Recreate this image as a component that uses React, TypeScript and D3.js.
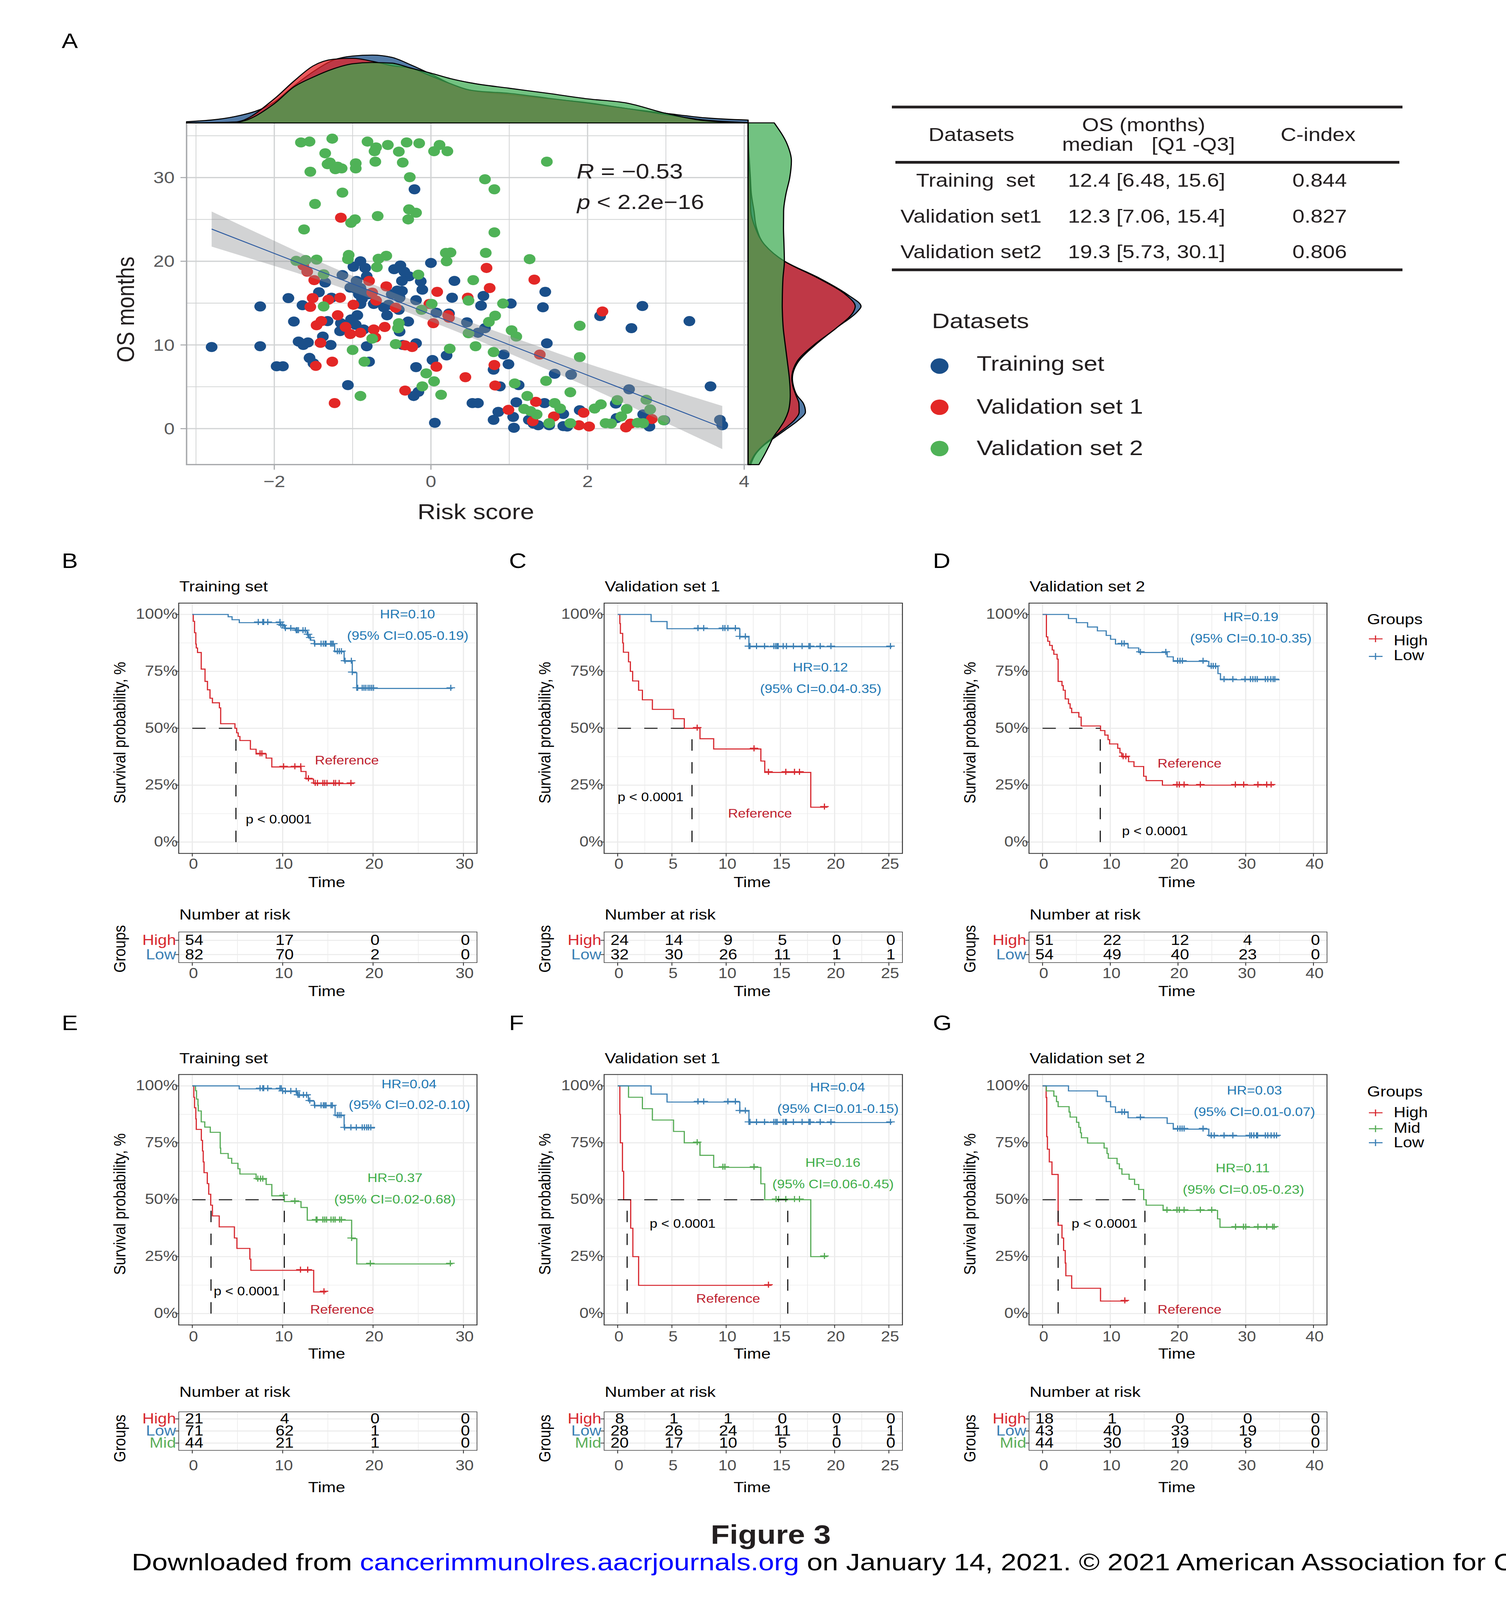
import React from 'react';
import * as d3 from 'd3';

type Pt = [number, number];

// the page has an 8px body margin by default
document.body.style.margin = '0';

// Panel A: scatter points, [risk score, OS months]
const trainingPts: Pt[] = [
  [-2.8,9.75],[-2.18,9.85],[-2.18,14.6],[-1.82,15.6],[-1.97,7.45],[-1.89,7.45],[-1.75,12.8],[-1.69,10.4],[-1.63,10],[-1.57,10.3],
  [-1.64,14.75],[-1.55,8.45],[-1.5,7.8],[-1.43,16.3],[-1.35,17.45],[-1.38,11],[-1.28,10],[-1.32,12.85],[-1.27,15.65],[-1.13,18.35],
  [-0.99,19.35],[-0.9,20],[-0.84,19.2],[-0.82,18.2],[-0.95,17.65],[-1.03,16.85],[-0.97,16.75],[-0.9,16.8],[-0.92,16.05],[-0.88,15.5],
  [-0.8,16.05],[-0.73,14.9],[-0.9,14.9],[-0.94,13.55],[-1.02,13.05],[-0.96,12.4],[-1.16,11.65],[-1.15,12.6],[-0.86,11.85],[-0.82,9.85],
  [-0.79,8],[-1.06,5.2],[-0.39,19.5],[-0.47,19.05],[-0.34,18.75],[-0.28,18.2],[-0.37,17.65],[-0.13,17.6],[-0.11,16.6],[-0.37,16.45],
  [-0.43,16.5],[-0.5,16.05],[-0.4,15.65],[-0.19,15.35],[-0.6,14.5],[-0.54,14.8],[-0.41,14.2],[-0.56,13.55],[-0.29,12.8],[-0.4,11.6],
  [-0.19,10.2],[-0.36,10],[0,19.8],[0.3,17.65],[0.27,15.65],[0.07,13.85],[0.23,13.75],[0.67,15.85],[0.64,14.7],[1.02,14.95],
  [1.46,16.35],[1.43,14.5],[0.46,12.7],[0.69,12],[0.6,11.45],[1.48,10.2],[0.93,8.85],[0.2,8.75],[0.02,8.2],[0.99,7.7],
  [0.8,7.05],[-0.19,7.35],[1.58,6.55],[1.79,6.45],[0.88,5.05],[1.12,5.2],[-0.16,4.4],[-0.22,3.9],[0.53,3.05],[0.6,3.05],
  [1.09,3.15],[1.45,3.05],[2.53,4.7],[2.16,13.45],[2.56,12],[2.7,14.65],[3.3,12.85],[3.57,5.05],[-0.21,28.6],[0.05,0.7],
  [0.86,2],[0.8,1.05],[1.05,1.4],[1.06,0.1],[1.25,1.05],[1.31,0.6],[1.37,0.4],[1.51,0.4],[1.69,1.75],[1.69,0.3],
  [1.74,0.25],[1.9,2.2],[2.36,3],[2.37,1.25],[2.71,1.7],[2.79,0.25],[2.98,1],[3.69,1.05],[3.72,0.4],
];
const validation1Pts: Pt[] = [
  [-1.15,25.2],[0.71,19.2],[1.32,17.8],[-1.58,18.75],[-1.63,19.5],[-1.49,17.75],[-0.79,17.65],[-0.57,17],[0.08,16.35],[0.75,16.8],
  [-0.75,16.25],[0.47,15.65],[-1.51,15.6],[-1.16,15.65],[-1.31,15.4],[-1.54,14.55],[-0.99,14.8],[-0.7,15.3],[-0.45,14.45],[-0.02,14.9],
  [2.19,14],[0.22,13.55],[0.23,13.25],[-1.19,13.55],[-1.4,12.85],[-1.46,12.35],[0.03,12.6],[-1.09,12.15],[-0.59,12.15],[-0.73,11.85],
  [-1.03,11.3],[-0.9,11.45],[-0.71,10.9],[-1.41,10.25],[-0.33,9.95],[-0.24,9.75],[1.39,8.85],[-1.26,8],[-1.47,7.5],[0.81,7.6],
  [0.07,7.4],[0.44,6.15],[0.82,5.15],[-0.33,4.55],[-1.23,3.05],[1.34,3.2],[0.99,2.25],[1.95,1.9],[1.57,1.45],[1.3,0.9],
  [2.82,1.15],[2.55,0.6],[2.49,0.15],[1.89,0.4],[2.02,0.25],
];
const validation2Pts: Pt[] = [
  [-1.66,34.2],[-1.55,34.3],[-1.26,34.65],[-0.81,34.3],[-0.7,33.6],[-0.55,33.9],[-0.72,33.15],[-0.41,33.1],[-0.31,34.2],[-0.15,34.1],
  [0.11,33.9],[0.04,33.15],[0.21,33.15],[-1.35,32.9],[-0.71,31.9],[-0.36,31.8],[-0.96,31.7],[-0.96,31.1],[-1.32,31.6],[-1.29,31.8],
  [-1.22,31],[-1.19,31.3],[-1.14,31.1],[-1.54,30.7],[1.48,31.9],[-0.27,30.05],[0.69,29.8],[0.81,28.6],[-1.13,28.2],[-1.48,26.85],
  [-0.28,26.2],[-0.19,25.8],[-0.68,25.4],[-0.29,25],[-0.97,25],[-1.02,24.6],[-1.62,23.8],[0.81,23.45],[0.7,21],[0.19,21],
  [0.25,21.05],[0.2,20],[1.26,20.25],[-1.05,20.75],[-1.06,20.25],[-0.57,20.65],[-0.67,20.3],[-0.69,19.3],[-1.72,20.05],[-1.6,20.15],
  [-1.46,20.2],[-1.37,18.45],[-0.16,18.4],[0.54,17.75],[0.48,15.3],[0.92,14.95],[-1.37,14.6],[0.01,14.9],[-0.12,14.2],[0.82,13.5],
  [0.74,12.75],[1.9,12.3],[-0.41,12.6],[-0.42,12],[1.03,11.75],[1.09,11],[0.48,11.4],[-0.75,10.75],[-0.45,10.1],[0.57,9.85],
  [0.24,9.55],[-1,9.4],[0.8,9.15],[1.9,8.55],[-0.85,8],[-0.06,6.6],[0.04,5.65],[1.47,5.7],[1.07,5.4],[-0.11,5.05],
  [1.78,4.35],[0.13,4.05],[-0.9,3.9],[1.23,3.9],[2.38,3.4],[2.75,3.45],[1.58,3.05],[2.17,2.9],[2.09,2.4],[1.65,2.4],
  [2.5,2.35],[2.8,2.3],[1.19,2.35],[1.27,2.1],[1.35,1.7],[2.43,1.45],[2.97,1],[1.51,0.65],[1.78,0.65],[2.23,0.65],
  [2.3,0.6],[2.64,0.7],[2.71,0.65],
];

// Regression line and its confidence band
const fitX = [-2.8,-2,-1.5,-1,-0.5,0,0.5,1,1.5,2,2.5,3,3.72];
const fitY = [23.85,20.94,19.12,17.3,15.48,13.66,11.85,10.03,8.21,6.39,4.57,2.75,0.13];
const fitUpper = [25.95,22.44,20.27,18.25,16.33,14.51,12.75,11.07,9.41,7.77,6.27,4.8,2.71];
const fitLower = [21.75,19.44,17.97,16.35,14.63,12.81,10.95,8.99,7.01,5.01,2.87,0.7,-2.45];

// Marginal densities over risk score
const topGrid = [-3.12,-2.5,-2,-1.75,-1.5,-1.25,-1,-0.75,-0.5,-0.25,0,0.25,0.5,1,1.5,2,2.5,3,3.5,4.05];
const topTraining = [.006,.03,.0975,.1725,.24,.2925,.312,.3165,.306,.27,.228,.183,.153,.132,.1125,.0945,.0675,.045,.024,.0135];
const topValidation1 = [0,.0045,.1125,.195,.267,.297,.3015,.288,.267,.255,.219,.183,.153,.138,.1155,.093,.0675,.039,.0135,.0015];
const topValidation2 = [0,.003,.09,.168,.2145,.252,.276,.282,.279,.255,.2325,.207,.1875,.162,.138,.1125,.093,.045,.0105,0];

// Marginal densities over OS months
const rightGrid = [36.54,34,32,30,28,26,24,22,20,18,16,14.6,14,12,10,8,6,5,4,3,2,1,0,-1,-2,-3,-4.3];
const rightTraining = [0,.0003,.001,.0018,.0026,.0047,.0067,.013,.0291,.0566,.0794,.09,.0872,.0701,.0535,.04,.0353,.0363,.0389,.0441,.0457,.04,.0311,.0218,.0125,.0062,.0021];
const rightValidation1 = [0,.0001,.0006,.0014,.0018,.0021,.0057,.013,.0289,.0555,.0779,.0854,.0841,.0701,.0524,.0389,.0348,.0358,.0381,.0405,.0407,.0368,.0291,.0202,.0119,.0057,.001];
const rightValidation2 = [.0208,.0311,.0345,.0332,.0301,.0283,.0282,.0286,.0289,.0278,.0273,.0272,.0273,.028,.0296,.0313,.0329,.0334,.0336,.0332,.0319,.0291,.0249,.0202,.0169,.0135,.0086];

// Summary table
const tableHeaders = ['Datasets', 'C-index'];
const tableDatasets = ['Training  set', 'Validation set1', 'Validation set2'];
const tableOs = ['12.4 [6.48, 15.6]', '12.3 [7.06, 15.4]', '19.3 [5.73, 30.1]'];
const tableCIndex = ['0.844', '0.827', '0.806'];
const legendNames = ['Training set', 'Validation set 1', 'Validation set 2'];

// Kaplan-Meier steps, [time, survival %], and censoring times
const bHigh: Pt[] = [[0,100],[.11,97],[.25,92],[.39,87],[.44,85.3],[.58,83.3],[.99,76],[1.41,70.6],[1.68,66.9],[1.96,63.2],[2.23,61.2],[3,59],[3.14,52],[4.72,50],[4.91,48],[5.08,46.4],[5.27,44.6],[6.43,40.8],[7.06,38.7],[8.17,36.9],[8.8,33],[12.03,31],[12.58,27.7],[13.41,25.7],[17.9,25.7]];
const bHighCens = [7.5,7.7,10.1,11.35,12,12.85,13.6,13.85,14.45,14.65,14.9,15.65,15.85,16.25,17.55];
const bLow: Pt[] = [[0,100],[3.97,99],[4.4,97.7],[5.2,96.4],[9.8,95.3],[10,94.9],[10.2,93.75],[11.4,92.8],[12.7,91],[12.9,89.6],[13.1,88.7],[13.5,86.9],[15.75,83.6],[16.8,79.4],[17.7,74.4],[18.2,67.5],[28.8,67.5]];
const bLowCens = [7.3,7.8,7.9,8.35,9.7,9.8,10,10.3,10.9,11.5,11.6,11.75,12.25,12.5,12.8,13.05,13.55,14.25,14.5,14.7,14.8,15.3,15.45,15.6,16.05,16.27,16.5,16.9,17.6,17.7,18.2,18.3,18.8,19,19.2,19.45,19.65,19.85,20.05,28.6];

const cHigh: Pt[] = [[0,100],[.2,96],[.25,91.7],[.46,87.5],[.53,83.4],[1,79.2],[1.17,75],[1.38,70.8],[1.93,66.7],[2.28,62.5],[3.2,58.3],[5.15,54.2],[6.14,50],[7.59,45.4],[8.85,40.9],[13.2,35.6],[13.56,30.6],[17.8,15.3],[19.35,15.3]];
const cHighCens = [7.33,12.57,13.9,15.5,16.3,16.76,19.06];
const cLow: Pt[] = [[0,100],[3.08,96.9],[4.55,93.75],[11.26,90.1],[12.1,85.8],[25.3,85.8]];
const cLowCens = [7.4,7.93,9.7,9.88,10.16,10.85,11.26,11.77,12.1,12.2,12.8,13.54,14.4,14.57,14.7,14.8,15.26,15.56,16.2,17,17.63,17.75,18.67,19.66,25.15];

const dHigh: Pt[] = [[0,100],[.57,90.2],[.77,88.2],[1.05,86.4],[1.43,84.4],[1.67,82.5],[2.15,80.4],[2.3,70.6],[2.87,68.75],[3.06,66.7],[3.35,62.9],[3.83,60.8],[4.07,58.8],[4.3,56.9],[5.36,54.9],[5.7,51],[8.56,49],[9.2,47],[9.67,45],[9.9,43.1],[11.1,41.2],[11.43,39.2],[11.7,37.4],[12.7,35.3],[13.5,33.2],[14.93,28.9],[15.3,27],[17.7,25],[34.2,25]];
const dHighCens = [11.9,12.3,19.85,20.2,20.9,23.3,28.47,29.7,31.8,33.1,33.75];
const dLow: Pt[] = [[0,100],[3.83,98.2],[5,96.4],[6.65,94.5],[8.1,92.8],[9.4,90.8],[10.05,89.1],[10.77,87],[12.63,85.3],[14.2,83.3],[18.4,81.4],[19.3,79.4],[24.55,77.1],[25.9,74],[26.27,71.3],[35,71.3]];
const dLowCens = [11.7,12.05,14.45,18.2,19.95,20.3,20.65,23.7,24.9,25.2,25.55,26.8,28.1,29.9,30.7,31.05,31.4,31.7,32.9,33.25,33.7,34.05,34.3];

const eHigh: Pt[] = [[0,100],[.17,95],[.25,90.4],[.39,85.5],[.44,80.9],[1,76.1],[1.13,71.4],[1.21,66.6],[1.3,61.9],[1.66,57.1],[1.82,52.4],[2.04,47.6],[2.23,42.9],[2.98,38.1],[4.66,33.2],[4.94,28.6],[6.37,23.9],[6.48,19],[13.43,9.5],[14.84,9.5]];
const eHighCens = [11.97,12.77,14.57];
const eMid: Pt[] = [[0,100],[.36,97.9],[.47,94.2],[.63,91.5],[.66,89],[.99,84.2],[1.38,81.9],[1.99,79.6],[3.09,72.7],[3.14,70.3],[3.97,68.2],[4.36,66],[5.05,63.6],[5.27,61.3],[7.06,59],[8.17,56.7],[8.8,51.7],[10.18,49.2],[12.03,46.6],[12.72,41],[17.63,32.9],[18.2,21.8],[28.8,21.8]];
const eMidCens = [7.25,7.55,7.8,10.1,11.35,13.7,13.8,14.45,14.65,14.85,15.35,15.6,15.8,16.3,16.5,17.63,19.7,28.55];
const eLow: Pt[] = [[0,100],[5.19,98.7],[10,97.5],[11.6,95.8],[12.85,93.3],[13.5,91.2],[15.8,86.9],[16.8,81.5],[20.2,81.5]];
const eLowCens = [7.5,7.8,7.9,8.35,9.7,9.85,10,10.3,10.9,11.5,11.7,11.85,12.3,12.65,13,13.55,14.25,14.5,14.65,14.8,15.35,15.5,16.05,16.25,16.45,16.85,17.55,18.15,18.8,19.05,19.3,19.5,19.75];

const fHigh: Pt[] = [[0,100],[.2,87.5],[.25,75],[.44,62.5],[.55,50],[1.2,37.5],[1.4,25],[1.93,12.4],[14.2,12.4]];
const fHighCens = [13.9];
const fMid: Pt[] = [[0,100],[1,95],[2.28,90],[3.2,85],[5.15,80],[6.14,75],[7.59,69.5],[8.85,64.2],[13.2,57],[13.56,50],[17.8,25],[19.35,25]];
const fMidCens = [7.33,9.7,9.88,12.57,14.6,14.83,15.5,16.3,16.76,19.06];
const fLow: Pt[] = [[0,100],[3.08,96.4],[4.55,92.9],[11.26,88.9],[12.1,83.9],[25.3,83.9]];
const fLowCens = [7.4,7.93,10.16,10.85,11.26,11.77,12.1,12.2,12.8,13.54,14.4,14.57,14.7,15.26,15.45,15.56,16.2,17,17.63,17.75,18.67,19.66,25.15];

const gHigh: Pt[] = [[0,100],[.53,94.9],[.62,77.7],[.72,72.2],[1,66.6],[1.39,61.1],[2.3,38.8],[2.87,33.2],[3.11,27.7],[3.35,22.2],[3.44,16.6],[4.3,11.1],[8.56,5.5],[12.6,5.5]];
const gHighCens = [12.15];
const gMid: Pt[] = [[0,100],[.57,97.8],[1.67,95.5],[2.06,93.1],[2.3,90.9],[3.92,88.5],[4.07,86.3],[5.02,84],[5.36,81.8],[5.6,79.4],[5.74,77.2],[6.65,74.9],[9.09,72.7],[9.52,70.3],[9.71,68.2],[11,65.8],[11.34,63.6],[11.72,61.2],[12.78,59],[13.59,56.7],[14.2,54.5],[14.93,50],[15.3,47.6],[17.8,45.3],[25.84,41.6],[26.2,37.9],[34.6,37.9]];
const gMidCens = [18.37,19.85,20.2,20.9,23.3,24.98,28.5,29.67,30,31.8,33.1,33.97,34.2];
const gLow: Pt[] = [[0,100],[3.83,97.8],[8.1,95.5],[9.4,93.1],[10.05,90.8],[10.77,88.3],[12.63,86],[18.4,83.5],[19.3,81],[24.55,78],[35,78]];
const gLowCens = [11.72,12.1,14.45,19.95,20.3,20.6,20.9,23.7,24.9,25.35,26.8,28.1,30.6,30.85,31.2,31.6,31.75,32.9,33.25,33.75,34.2,34.55];

// Numbers at risk
const riskB = { High: [54,17,0,0], Low: [82,70,2,0] };
const riskC = { High: [24,14,9,5,0,0], Low: [32,30,26,11,1,1] };
const riskD = { High: [51,22,12,4,0], Low: [54,49,40,23,0] };
const riskE = { High: [21,4,0,0], Low: [71,62,1,0], Mid: [44,21,1,0] };
const riskF = { High: [8,1,1,0,0,0], Low: [28,26,24,11,1,1], Mid: [20,17,10,5,0,0] };
const riskG = { High: [18,1,0,0,0], Low: [43,40,33,19,0], Mid: [44,30,19,8,0] };

const FONT = '"Liberation Sans", Arial, sans-serif';
const INK = '#231f20';
const DOT = { training: '#1a4f8a', v1: '#e32726', v2: '#4fb257' };
const GROUP_COLOR: Record<string, string> = { High: '#d7282f', Mid: '#55ab55', Low: '#3b7fb4' };
const ROW_LABEL: Record<string, string> = { High: '#d7282f', Mid: '#5daf5b', Low: '#3b7fb4' };
const ANN_BLUE = '#1f78b4';
const ANN_GREEN = '#3fae49';
const ANN_RED = '#be1e2d';

// Panel A
const ax = d3.scaleLinear().domain([-3.12, 4.05]).range([477.6, 1915]);
const ay = d3.scaleLinear().domain([-4.3, 36.53]).range([1382.8, 365.9]);
const topY = d3.scaleLinear().domain([0, 0.3165]).range([366, 164]);
const rightX = d3.scaleLinear().domain([0, 0.09]).range([1915, 2204]);

const densityTop = (vals: number[]) =>
  d3.area<number>().x((_, i) => ax(topGrid[i])).y0(topY(0)).y1((d) => topY(d)).curve(d3.curveMonotoneX)(vals) as string;
const densityRight = (vals: number[]) =>
  d3.area<number>().y((_, i) => ay(rightGrid[i])).x0(rightX(0)).x1((d) => rightX(d)).curve(d3.curveMonotoneY)(vals) as string;

const PanelA = () => {
  const band = d3.area<number>().x((d) => ax(d)).y0((_, i) => ay(fitLower[i])).y1((_, i) => ay(fitUpper[i])).curve(d3.curveMonotoneX)(fitX) as string;
  const line = d3.line<number>().x((d) => ax(d)).y((_, i) => ay(fitY[i]))(fitX) as string;
  const densities = [
    { top: topTraining, right: rightTraining, fill: 'rgb(26,79,138)', op: 0.75 },
    { top: topValidation1, right: rightValidation1, fill: 'rgb(227,33,38)', op: 0.75 },
    { top: topValidation2, right: rightValidation2, fill: 'rgb(60,170,80)', op: 0.72 },
  ];
  return (
    <g>
      {[-3, -1, 1, 3].map((v) => <line key={v} x1={ax(v)} x2={ax(v)} y1={366} y2={1383} stroke="#d1d3d4" strokeWidth={2} />)}
      {[5, 15, 25, 35].map((v) => <line key={v} x1={477} x2={1915} y1={ay(v)} y2={ay(v)} stroke="#d1d3d4" strokeWidth={2.2} />)}
      {[-2, 0, 2, 4].map((v) => <line key={v} x1={ax(v)} x2={ax(v)} y1={366} y2={1383} stroke="#d1d3d4" strokeWidth={3.2} />)}
      {[0, 10, 20, 30].map((v) => <line key={v} x1={477} x2={1915} y1={ay(v)} y2={ay(v)} stroke="#d1d3d4" strokeWidth={3.6} />)}
      <path d="M477.6 366V1382.8H1915" fill="none" stroke="#a7a9ac" strokeWidth={3.6} />

      {trainingPts.map((d, i) => <circle key={i} cx={ax(d[0])} cy={ay(d[1])} r={15} fill={DOT.training} />)}
      {validation1Pts.map((d, i) => <circle key={i} cx={ax(d[0])} cy={ay(d[1])} r={15} fill={DOT.v1} />)}
      {validation2Pts.map((d, i) => <circle key={i} cx={ax(d[0])} cy={ay(d[1])} r={15} fill={DOT.v2} />)}
      <path d={band} fill="#8e9094" fillOpacity={0.4} />
      <path d={line} fill="none" stroke="#2c5aa0" strokeWidth={2.6} />

      {[-2, 0, 2, 4].map((v) => (
        <g key={v}>
          <line x1={ax(v)} x2={ax(v)} y1={1383} y2={1398} stroke="#a7a9ac" strokeWidth={3} />
          <text x={ax(v)} y={1450} textAnchor="middle" fontSize={49} fill="#58595b">{v < 0 ? `\u2212${-v}` : v}</text>
        </g>
      ))}
      {[0, 10, 20, 30].map((v) => (
        <g key={v}>
          <line x1={462} x2={477} y1={ay(v)} y2={ay(v)} stroke="#a7a9ac" strokeWidth={3} />
          <text x={447} y={ay(v) + 17} textAnchor="end" fontSize={49} fill="#58595b">{v}</text>
        </g>
      ))}
      <text x={1218} y={1545} textAnchor="middle" fontSize={64} fill={INK}>Risk score</text>
      <text transform="translate(343,921) rotate(-90)" textAnchor="middle" fontSize={63} fill={INK}>OS months</text>
      <text x={1476} y={531} fontSize={62} fill={INK}><tspan fontStyle="italic">R</tspan> = {'\u2212'}0.53</text>
      <text x={1477} y={622} fontSize={61} fill={INK}><tspan fontStyle="italic">p</tspan> &lt; 2.2e{'\u2212'}16</text>

      {densities.map((d, i) => <path key={i} d={densityTop(d.top)} fill={d.fill} fillOpacity={d.op} stroke="#000" strokeWidth={3} strokeLinejoin="round" />)}
      {densities.map((d, i) => <path key={i} d={densityRight(d.right)} fill={d.fill} fillOpacity={d.op} stroke="#000" strokeWidth={3} strokeLinejoin="round" />)}
    </g>
  );
};

const SummaryTable = () => {
  const rowY = [556, 662.5, 768.7];
  return (
    <g fontSize={55.7} fill={INK}>
      <line x1={2283} x2={3590} y1={318.5} y2={318.5} stroke={INK} strokeWidth={8} />
      <line x1={2292} x2={3582} y1={483} y2={483} stroke={INK} strokeWidth={8} />
      <line x1={2283} x2={3590} y1={803} y2={803} stroke={INK} strokeWidth={8} />
      <text x={2486.6} y={419.6} textAnchor="middle">{tableHeaders[0]}</text>
      <text x={2927.5} y={390.5} textAnchor="middle">OS (months)</text>
      <text x={2940} y={448.7} textAnchor="middle" xmlSpace="preserve">{'median   [Q1 -Q3]'}</text>
      <text x={3374} y={419.6} textAnchor="middle">{tableHeaders[1]}</text>
      {tableDatasets.map((d, i) => (
        <g key={d}>
          <text x={i === 0 ? 2345 : 2305} y={rowY[i]} xmlSpace="preserve">{d}</text>
          <text x={2733.8} y={rowY[i]}>{tableOs[i]}</text>
          <text x={3378} y={rowY[i]} textAnchor="middle">{tableCIndex[i]}</text>
        </g>
      ))}
      <text x={2385.5} y={976.7} fontSize={63}>Datasets</text>
      {legendNames.map((d, i) => (
        <g key={d}>
          <circle cx={2405} cy={[1089.5, 1212, 1335][i]} r={23} fill={[DOT.training, DOT.v1, DOT.v2][i]} />
          <text x={2500} y={[1103, 1231, 1355][i]} fontSize={63}>{d}</text>
        </g>
      ))}
    </g>
  );
};

interface Curve { group: string; steps: Pt[]; censor: number[] }
interface Note { text: string; x: number; y: number; color: string; anchor?: string }
interface KmProps {
  title: string;
  col: number;
  row: number;
  tMax: number;
  tStep: number;
  curves: Curve[];
  medians: number[];
  risk: Record<string, number[]>;
  notes: Note[];
}

const COLS = [[457.5, 1221], [1546.4, 2310], [2634, 3396.8]];
const ROWS = [
  { top: 1795, bottom: 2540, title: 1760, tick: 2586, time: 2640, riskTitle: 2737, tTop: 2773.7, tBottom: 2865, rows: [2798.6, 2841], tTick: 2911, tTime: 2965, groupsY: 2824 },
  { top: 3198, bottom: 3943.4, title: 3165, tick: 3992.5, time: 4044, riskTitle: 4158, tTop: 4202, tBottom: 4316.6, rows: [4223, 4295], tTick: 4376.4, tTime: 4441.6, groupsY: 4281 },
];

const KmPanel = ({ title, col, row, tMax, tStep, curves, medians, risk, notes }: KmProps) => {
  const [left, right] = COLS[col];
  const L = ROWS[row];
  const x = d3.scaleLinear().domain([-tMax * 0.05, tMax * 1.05]).range([left, right]);
  const y = d3.scaleLinear().domain([-5, 105]).range([L.bottom, L.top]);
  const ticks = d3.range(0, tMax + 0.001, tStep);
  const minors = d3.range(tStep / 2, tMax * 1.05, tStep);
  const line = d3.line<Pt>().x((d) => x(d[0])).y((d) => y(d[1])).curve(d3.curveStepAfter);
  const bis = d3.bisector((d: Pt) => d[0]).right;
  const survAt = (steps: Pt[], t: number) => steps[Math.max(0, bis(steps, t) - 1)][1];
  const groups = Object.keys(risk);
  const rowY = d3.scalePoint<string>().domain(groups).range(L.rows);
  const cx = (left + right) / 2 - 3;
  const yBase = left - 137;
  return (
    <g>
      <text x={left + 1.5} y={L.title} fontSize={43.7} fill="#000">{title}</text>
      {minors.map((t) => <line key={t} x1={x(t)} x2={x(t)} y1={L.top} y2={L.bottom} stroke="#ebebeb" strokeWidth={1.6} />)}
      {[12.5, 37.5, 62.5, 87.5].map((v) => <line key={v} x1={left} x2={right} y1={y(v)} y2={y(v)} stroke="#ebebeb" strokeWidth={1.6} />)}
      {ticks.map((t) => <line key={t} x1={x(t)} x2={x(t)} y1={L.top} y2={L.bottom} stroke="#ebebeb" strokeWidth={3} />)}
      {[0, 25, 50, 75, 100].map((v) => <line key={v} x1={left} x2={right} y1={y(v)} y2={y(v)} stroke="#ebebeb" strokeWidth={3} />)}

      {curves.map((c) => (
        <g key={c.group} stroke={GROUP_COLOR[c.group]} fill="none">
          <path d={line(c.steps) as string} strokeWidth={3} />
          <path
            strokeWidth={3}
            d={c.censor.map((t) => {
              const px = x(t);
              const py = y(survAt(c.steps, t)) - 2;
              return `M${px - 11} ${py}H${px + 11}M${px} ${py - 9}V${py + 9}`;
            }).join('')}
          />
        </g>
      ))}

      <line x1={x(0)} x2={x(d3.max(medians) as number)} y1={y(50)} y2={y(50)} stroke="#000" strokeWidth={2.6} strokeDasharray="34 34" />
      {medians.map((m) => <line key={m} x1={x(m)} x2={x(m)} y1={y(0)} y2={y(50)} stroke="#000" strokeWidth={2.6} strokeDasharray="34 34" />)}

      <rect x={left} y={L.top} width={right - left} height={L.bottom - L.top} fill="none" stroke="#333" strokeWidth={2.4} />
      {ticks.map((t) => (
        <g key={t}>
          <line x1={x(t)} x2={x(t)} y1={L.bottom} y2={L.bottom + 9} stroke="#333" strokeWidth={2.2} />
          <text x={x(t) + 3} y={L.tick} textAnchor="middle" fontSize={42} fill="#4d4d4d">{t}</text>
        </g>
      ))}
      {[0, 25, 50, 75, 100].map((v) => (
        <g key={v}>
          <line x1={left - 9} x2={left} y1={y(v)} y2={y(v)} stroke="#333" strokeWidth={2.2} />
          <text x={left - 2.5} y={y(v) + 13} textAnchor="end" fontSize={42} fill="#4d4d4d">{`${v}%`}</text>
        </g>
      ))}
      <text x={cx} y={L.time} textAnchor="middle" fontSize={43.5} fill="#000">Time</text>
      <text transform={`translate(${yBase},${(L.top + L.bottom) / 2 + 13}) rotate(-90)`} textAnchor="middle" fontSize={43.2} fill="#000">Survival probability, %</text>
      {notes.map((n) => (
        <text key={n.text} x={n.x} y={n.y} fontSize={35.5} fill={n.color} textAnchor={(n.anchor || 'start') as any}>{n.text}</text>
      ))}

      <text x={left + 1.5} y={L.riskTitle} fontSize={43.7} fill="#000">Number at risk</text>
      {minors.map((t) => <line key={t} x1={x(t)} x2={x(t)} y1={L.tTop} y2={L.tBottom} stroke="#ebebeb" strokeWidth={1.6} />)}
      {ticks.map((t) => <line key={t} x1={x(t)} x2={x(t)} y1={L.tTop} y2={L.tBottom} stroke="#ebebeb" strokeWidth={3} />)}
      {groups.map((g) => <line key={g} x1={left} x2={right} y1={rowY(g)} y2={rowY(g)} stroke="#ebebeb" strokeWidth={3} />)}
      <rect x={left} y={L.tTop} width={right - left} height={L.tBottom - L.tTop} fill="none" stroke="#333" strokeWidth={1.6} />
      {groups.map((g) => (
        <g key={g}>
          <line x1={left - 9} x2={left} y1={rowY(g)} y2={rowY(g)} stroke="#333" strokeWidth={2.2} />
          <text x={left - 7} y={(rowY(g) as number) + 14} textAnchor="end" fontSize={42} fill={ROW_LABEL[g]}>{g}</text>
          {risk[g].map((n, i) => (
            <text key={i} x={x(ticks[i]) + 5} y={(rowY(g) as number) + 14} textAnchor="middle" fontSize={42} fill="#000">{n}</text>
          ))}
        </g>
      ))}
      {ticks.map((t) => (
        <g key={t}>
          <line x1={x(t)} x2={x(t)} y1={L.tBottom} y2={L.tBottom + 9} stroke="#333" strokeWidth={2.2} />
          <text x={x(t) + 3} y={L.tTick} textAnchor="middle" fontSize={42} fill="#4d4d4d">{t}</text>
        </g>
      ))}
      <text x={cx} y={L.tTime} textAnchor="middle" fontSize={43.5} fill="#000">Time</text>
      <text transform={`translate(${yBase},${L.groupsY}) rotate(-90)`} textAnchor="middle" fontSize={43.2} fill="#000">Groups</text>
    </g>
  );
};

const GroupLegend = ({ names, titleY, keyY, textY }: { names: string[]; titleY: number; keyY: number[]; textY: number[] }) => (
  <g>
    <text x={3499.6} y={titleY} fontSize={43.3} fill="#000">Groups</text>
    {names.map((n, i) => (
      <g key={n}>
        <path d={`M3504 ${keyY[i]}H3539M3521 ${keyY[i] - 10}V${keyY[i] + 10}`} stroke={GROUP_COLOR[n]} strokeWidth={3} fill="none" />
        <text x={3567.6} y={textY[i]} fontSize={42.4} fill="#000">{n}</text>
      </g>
    ))}
  </g>
);

const panelLetters: [string, number, number][] = [
  ['A', 158, 143], ['B', 158, 1690], ['C', 1303, 1690], ['D', 2388, 1690], ['E', 158, 3066], ['F', 1303, 3066], ['G', 2388, 3066],
];

export default function App() {
  // The browser window turns out to be capped at 4096px high, so the 4762px
  // layout is fitted to whatever height is really there (squashed vertically
  // when capped) rather than losing the bottom rows and the caption.
  const pageH = Math.min(4762, window.innerHeight || 4762);
  return (
    <svg
      width={3855}
      height={pageH}
      viewBox="0 0 3855 4762"
      preserveAspectRatio="none"
      style={{ display: 'block', background: '#fff' }}
      fontFamily={FONT}
    >
      {panelLetters.map(([l, x, y]) => <text key={l} x={x} y={y} fontSize={62} fill="#000">{l}</text>)}
      <PanelA />
      <SummaryTable />

      <KmPanel
        title="Training set" col={0} row={0} tMax={30} tStep={10} medians={[4.83]} risk={riskB}
        curves={[{ group: 'High', steps: bHigh, censor: bHighCens }, { group: 'Low', steps: bLow, censor: bLowCens }]}
        notes={[
          { text: 'HR=0.10', x: 1043, y: 1840, color: ANN_BLUE, anchor: 'middle' },
          { text: '(95% CI=0.05-0.19)', x: 1043.6, y: 1904, color: ANN_BLUE, anchor: 'middle' },
          { text: 'Reference', x: 806, y: 2275, color: ANN_RED },
          { text: 'p < 0.0001', x: 629, y: 2451, color: '#000' },
        ]}
      />
      <KmPanel
        title="Validation set 1" col={1} row={0} tMax={25} tStep={5} medians={[6.85]} risk={riskC}
        curves={[{ group: 'High', steps: cHigh, censor: cHighCens }, { group: 'Low', steps: cLow, censor: cLowCens }]}
        notes={[
          { text: 'HR=0.12', x: 2100, y: 1998, color: ANN_BLUE, anchor: 'middle' },
          { text: '(95% CI=0.04-0.35)', x: 2100.8, y: 2062, color: ANN_BLUE, anchor: 'middle' },
          { text: 'Reference', x: 1863.4, y: 2433, color: ANN_RED },
          { text: 'p < 0.0001', x: 1581, y: 2385, color: '#000' },
        ]}
      />
      <KmPanel
        title="Validation set 2" col={2} row={0} tMax={40} tStep={10} medians={[8.52]} risk={riskD}
        curves={[{ group: 'High', steps: dHigh, censor: dHighCens }, { group: 'Low', steps: dLow, censor: dLowCens }]}
        notes={[
          { text: 'HR=0.19', x: 3202, y: 1849, color: ANN_BLUE, anchor: 'middle' },
          { text: '(95% CI=0.10-0.35)', x: 3202, y: 1913, color: ANN_BLUE, anchor: 'middle' },
          { text: 'Reference', x: 2963, y: 2285, color: ANN_RED },
          { text: 'p < 0.0001', x: 2872, y: 2486, color: '#000' },
        ]}
      />
      <GroupLegend names={['High', 'Low']} titleY={1857.5} keyY={[1901.4, 1953.6]} textY={[1921, 1965]} />

      <KmPanel
        title="Training set" col={0} row={1} tMax={30} tStep={10} medians={[2.07, 10.18]} risk={riskE}
        curves={[{ group: 'High', steps: eHigh, censor: eHighCens }, { group: 'Mid', steps: eMid, censor: eMidCens }, { group: 'Low', steps: eLow, censor: eLowCens }]}
        notes={[
          { text: 'HR=0.04', x: 1047, y: 3239, color: ANN_BLUE, anchor: 'middle' },
          { text: '(95% CI=0.02-0.10)', x: 1048, y: 3301, color: ANN_BLUE, anchor: 'middle' },
          { text: 'HR=0.37', x: 1011, y: 3518, color: ANN_GREEN, anchor: 'middle' },
          { text: '(95% CI=0.02-0.68)', x: 1011, y: 3582, color: ANN_GREEN, anchor: 'middle' },
          { text: 'Reference', x: 794, y: 3910, color: ANN_RED },
          { text: 'p < 0.0001', x: 547, y: 3855, color: '#000' },
        ]}
      />
      <KmPanel
        title="Validation set 1" col={1} row={1} tMax={25} tStep={5} medians={[0.87, 15.68]} risk={riskF}
        curves={[{ group: 'High', steps: fHigh, censor: fHighCens }, { group: 'Mid', steps: fMid, censor: fMidCens }, { group: 'Low', steps: fLow, censor: fLowCens }]}
        notes={[
          { text: 'HR=0.04', x: 2144, y: 3248, color: ANN_BLUE, anchor: 'middle' },
          { text: '(95% CI=0.01-0.15)', x: 2145, y: 3312, color: ANN_BLUE, anchor: 'middle' },
          { text: 'HR=0.16', x: 2132, y: 3473, color: ANN_GREEN, anchor: 'middle' },
          { text: '(95% CI=0.06-0.45)', x: 2132.5, y: 3537, color: ANN_GREEN, anchor: 'middle' },
          { text: 'Reference', x: 1782, y: 3877, color: ANN_RED },
          { text: 'p < 0.0001', x: 1663, y: 3654, color: '#000' },
        ]}
      />
      <KmPanel
        title="Validation set 2" col={2} row={1} tMax={40} tStep={10} medians={[2.3, 15.12]} risk={riskG}
        curves={[{ group: 'High', steps: gHigh, censor: gHighCens }, { group: 'Mid', steps: gMid, censor: gMidCens }, { group: 'Low', steps: gLow, censor: gLowCens }]}
        notes={[
          { text: 'HR=0.03', x: 3211, y: 3258, color: ANN_BLUE, anchor: 'middle' },
          { text: '(95% CI=0.01-0.07)', x: 3211, y: 3322, color: ANN_BLUE, anchor: 'middle' },
          { text: 'HR=0.11', x: 3181, y: 3489, color: ANN_GREEN, anchor: 'middle' },
          { text: '(95% CI=0.05-0.23)', x: 3183, y: 3553, color: ANN_GREEN, anchor: 'middle' },
          { text: 'Reference', x: 2963, y: 3910, color: ANN_RED },
          { text: 'p < 0.0001', x: 2743, y: 3654, color: '#000' },
        ]}
      />
      <GroupLegend names={['High', 'Mid', 'Low']} titleY={3263} keyY={[3312, 3359.5, 3401]} textY={[3325.5, 3371, 3415]} />

      <text x={1973} y={4595} textAnchor="middle" fontSize={79} fontWeight="bold" fill={INK}>Figure 3</text>
      <text x={337} y={4674} fontSize={72} fill="#000">
        Downloaded from <tspan fill="#0000ff">cancerimmunolres.aacrjournals.org</tspan> on January 14, 2021. © 2021 American Association for C
      </text>
    </svg>
  );
}
